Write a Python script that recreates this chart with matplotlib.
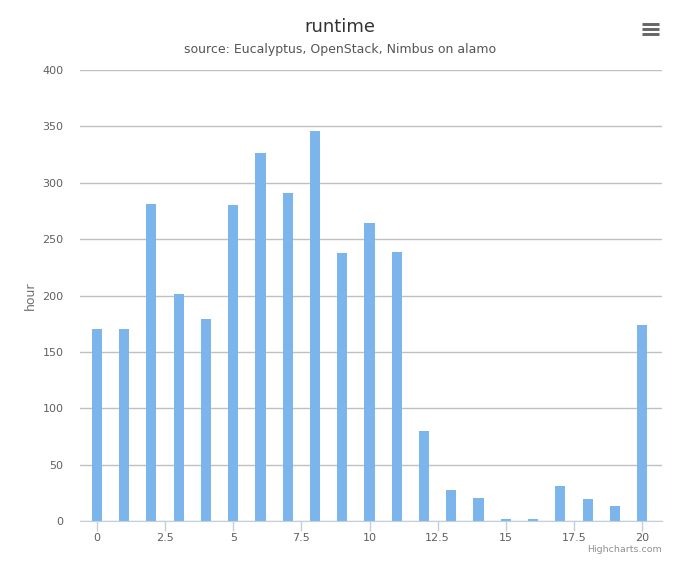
import matplotlib.pyplot as plt
from matplotlib.lines import Line2D

# values
runs = list(range(21))
hours = [170, 170, 281, 201, 179, 280, 326, 291, 346, 238, 264,
         239, 80, 27.5, 20.5, 2, 2, 31, 19.5, 13.3, 174]
x_ticks = [0, 2.5, 5, 7.5, 10, 12.5, 15, 17.5, 20]
x_tick_labels = ["0", "2.5", "5", "7.5", "10", "12.5", "15", "17.5", "20"]
y_ticks = [0, 50, 100, 150, 200, 250, 300, 350, 400]

W, H = 680, 566
fig = plt.figure(figsize=(W / 100, H / 100), dpi=100)
ax = fig.add_axes([80 / W, (H - 521) / H, (662 - 80) / W, (521 - 70) / H])

ax.bar(runs, hours, width=0.37, color="#7cb5ec", zorder=3)

ax.set_xlim(-0.62, 20.73)
ax.set_ylim(0, 400)
ax.set_yticks(y_ticks)
ax.set_xticks(x_ticks)
ax.set_xticklabels(x_tick_labels)

ax.yaxis.grid(True, color="#c0c0c0", linewidth=1, zorder=0)
for side in ["top", "right", "left"]:
    ax.spines[side].set_visible(False)
ax.spines["bottom"].set_color("#c0d0e0")
ax.spines["bottom"].set_zorder(4)
ax.tick_params(axis="y", length=0, pad=12, labelsize=8, labelcolor="#606060")
ax.tick_params(axis="x", direction="out", length=7.2, width=1,
               color="#c0d0e0", pad=1.5, labelsize=8, labelcolor="#606060")

ax.set_ylabel("hour", fontsize=9, color="#707070", labelpad=4)

fig.text(0.5, 1 - 27 / H, "runtime", ha="center", va="center",
         fontsize=13, color="#333333")
fig.text(0.5, 1 - 50 / H, "source: Eucalyptus, OpenStack, Nimbus on alamo",
         ha="center", va="center", fontsize=9, color="#555555")
fig.text(662 / W, 1 - 550 / H, "Highcharts.com", ha="right", va="center",
         fontsize=6.8, color="#909090")

# context menu icon
for yy in [24, 29.3, 34.3]:
    fig.add_artist(Line2D([642 / W, 659 / W], [1 - yy / H, 1 - yy / H],
                          color="#666666", linewidth=2.1,
                          solid_capstyle="butt"))

fig.savefig("out.png", dpi=100)
